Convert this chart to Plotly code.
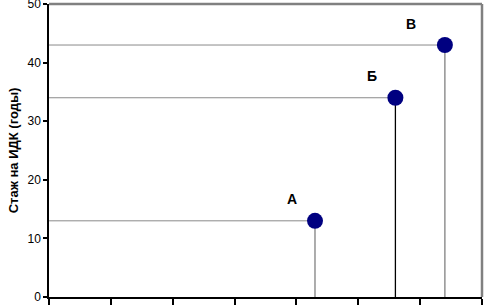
import plotly.graph_objects as go

labels = ["А", "Б", "В"]
x_vals = [43, 56, 64]
y_vals = [13, 34, 43]
y_ticks = [0, 10, 20, 30, 40, 50]
x_ticks = [0, 10, 20, 30, 40, 50, 60, 70]

vert_colors = ["#808080", "#000000", "#808080"]
label_shift = [(-23, 22), (-23, 22), (-34, 21)]

fig = go.Figure()

# horizontal leader lines
for xv, yv in zip(x_vals, y_vals):
    fig.add_trace(go.Scatter(x=[0, xv], y=[yv, yv], mode="lines",
                             line=dict(color="#8a8a8a", width=1),
                             hoverinfo="skip", showlegend=False))
# vertical drop lines
for xv, yv, c in zip(x_vals, y_vals, vert_colors):
    fig.add_trace(go.Scatter(x=[xv, xv], y=[0, yv], mode="lines",
                             line=dict(color=c, width=1.3),
                             hoverinfo="skip", showlegend=False))

fig.add_trace(go.Scatter(x=x_vals, y=y_vals, mode="markers",
                         marker=dict(color="#000080", size=16, line=dict(width=0)),
                         showlegend=False))

for lab, xv, yv, (dx, dy) in zip(labels, x_vals, y_vals, label_shift):
    fig.add_annotation(x=xv, y=yv, text="<b>%s</b>" % lab, showarrow=False,
                       xshift=dx, yshift=dy,
                       font=dict(family="Arial, Liberation Sans", size=14, color="black"))

fig.update_layout(
    width=487, height=305,
    margin=dict(l=49, r=5, t=4, b=8),
    paper_bgcolor="white", plot_bgcolor="white",
    font=dict(family="Arial, Liberation Sans", color="black"),
    # gray frame along top and right edges of the plot area
    shapes=[
        dict(type="line", xref="x domain", yref="y domain", x0=0, y0=1, x1=1, y1=1,
             line=dict(color="#808080", width=2.5), layer="above"),
        dict(type="line", xref="x domain", yref="y domain", x0=1, y0=0, x1=1, y1=1,
             line=dict(color="#808080", width=2.5), layer="above"),
    ],
)
fig.update_xaxes(range=[0, 70], tickvals=x_ticks, showticklabels=False,
                 ticks="outside", ticklen=7, tickcolor="black", tickwidth=1.5,
                 showline=True, linecolor="black", linewidth=1.5,
                 showgrid=False, zeroline=False, automargin=False)
fig.update_yaxes(range=[0, 50], tickvals=y_ticks, ticks="outside", ticklen=4,
                 tickcolor="black", tickwidth=1.5,
                 tickfont=dict(size=12, color="black"),
                 ticklabeloverflow="allow",
                 showline=True, linecolor="black", linewidth=1.5,
                 showgrid=False, zeroline=False, automargin=False,
                 title=dict(text="<b>Стаж на ИДК (годы)</b>", standoff=6,
                            font=dict(size=13, color="black")))

fig.write_html("out.html", config={"displayModeBar": False},
               post_script="document.body.style.margin='0';document.body.style.overflow='hidden';")
